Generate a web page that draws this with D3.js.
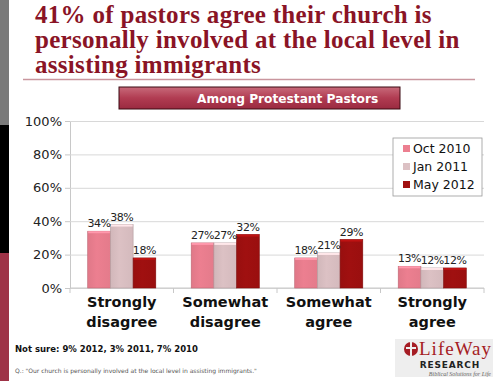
<!DOCTYPE html>
<html><head><meta charset="utf-8">
<script src="https://cdn.jsdelivr.net/npm/d3@7"></script>
<style>body{margin:0;background:#fff}svg{display:block}</style>
</head><body>
<script>
const categories = [["Strongly","disagree"],["Somewhat","disagree"],["Somewhat","agree"],["Strongly","agree"]];
const seriesNames = ["Oct 2010","Jan 2011","May 2012"];
const oct2010 = [34,27,18,13];
const jan2011 = [38,27,21,12];
const may2012 = [18,32,29,12];
const yTicks = [0,20,40,60,80,100];
const titleLines = ["41% of pastors agree their church is","personally involved at the local level in","assisting immigrants"];
const seriesColors = ["#ec7f90","#dcc1c4","#a01010"];
const series = [oct2010, jan2011, may2012];

const W=500,H=381;
const svg=d3.select("body").append("svg").attr("width",W).attr("height",H);

// left strip
svg.append("rect").attr("x",0).attr("y",0).attr("width",9).attr("height",125).attr("fill","#7a7a7a");
svg.append("rect").attr("x",0).attr("y",125).attr("width",9).attr("height",128).attr("fill","#000");
svg.append("rect").attr("x",0).attr("y",253).attr("width",9).attr("height",128).attr("fill","#9e3347");

// title
svg.append("g").selectAll("text").data(titleLines).join("text")
  .attr("x",35).attr("y",(d,i)=>22.5+i*25)
  .attr("font-family","'Liberation Serif','Times New Roman',serif").attr("font-weight","bold")
  .attr("font-size",25).attr("letter-spacing",0.3).attr("fill","#8a1426").text(d=>d);
svg.append("line").attr("x1",23).attr("x2",475).attr("y1",79.5).attr("y2",79.5).attr("stroke","#c9969e").attr("stroke-width",1.5);

// banner
const defs=svg.append("defs");
const bg=defs.append("linearGradient").attr("id","bann").attr("x1",0).attr("y1",0).attr("x2",0).attr("y2",1);
bg.append("stop").attr("offset","0").attr("stop-color","#c86a7a");
bg.append("stop").attr("offset","0.5").attr("stop-color","#b13c52");
bg.append("stop").attr("offset","1").attr("stop-color","#9a2a40");
svg.append("rect").attr("x",119).attr("y",87).attr("width",281).attr("height",22).attr("fill","url(#bann)").attr("stroke","#3a0a12").attr("stroke-width",1);
svg.append("text").attr("x",197).attr("y",103).attr("font-family","'DejaVu Sans',sans-serif").attr("font-weight","bold")
  .attr("font-size",12.2).attr("fill","#fff").text("Among Protestant Pastors");

// chart
const x0=d3.scaleBand().domain(d3.range(categories.length)).range([70,484]).paddingInner(0).paddingOuter(0);
const x1=d3.scaleBand().domain(d3.range(seriesNames.length)).range([0,x0.bandwidth()]).paddingInner(0).paddingOuter(0.78);
const y=d3.scaleLinear().domain([0,100]).range([288,121]);

const yAxis=svg.append("g").attr("transform","translate(70,0)")
  .call(d3.axisLeft(y).tickValues(yTicks).tickFormat(d=>d+"%").tickSize(-(484-70)).tickPadding(8));
yAxis.select(".domain").attr("stroke","#c8c8c8");
yAxis.selectAll(".tick line").attr("stroke","#d8d8d8");
yAxis.selectAll("text").attr("font-family","'DejaVu Sans',sans-serif").attr("font-size",13).attr("fill","#222");
yAxis.selectAll(".tick").append("line").attr("x1",-5).attr("x2",0).attr("stroke","#c8c8c8");

// x baseline and ticks
svg.append("line").attr("x1",70).attr("x2",484).attr("y1",y(0)).attr("y2",y(0)).attr("stroke","#c8c8c8");
svg.append("g").selectAll("line").data(d3.range(categories.length+1)).join("line")
  .attr("x1",d=>70+d*x0.bandwidth()).attr("x2",d=>70+d*x0.bandwidth())
  .attr("y1",y(0)).attr("y2",y(0)+5).attr("stroke","#c8c8c8");

// gradients for bars
seriesColors.forEach((c,i)=>{
  const g=defs.append("linearGradient").attr("id","bar"+i).attr("x1",0).attr("y1",0).attr("x2",1).attr("y2",0);
  g.append("stop").attr("offset","0").attr("stop-color",d3.color(c).darker(0.15));
  g.append("stop").attr("offset","0.4").attr("stop-color",c);
  g.append("stop").attr("offset","1").attr("stop-color",d3.color(c).darker(0.1));
});

const groups=svg.append("g").selectAll("g").data(categories).join("g")
  .attr("transform",(d,i)=>`translate(${x0(i)},0)`);
groups.each(function(cat,ci){
  const g=d3.select(this);
  series.forEach((s,si)=>{
    const v=s[ci];
    g.append("rect").attr("x",x1(si)).attr("y",y(v)).attr("width",x1.bandwidth()).attr("height",y(0)-y(v))
      .attr("fill","url(#bar"+si+")").attr("stroke",d3.color(seriesColors[si]).darker(0.6)).attr("stroke-width",0.6);
    g.append("rect").attr("x",x1(si)+0.5).attr("y",y(v)).attr("width",x1.bandwidth()-1).attr("height",2)
      .attr("fill",d3.color(seriesColors[si]).brighter(0.5));
  });
  series.forEach((s,si)=>{
    const v=s[ci];
    g.append("text").attr("x",x1(si)+x1.bandwidth()/2).attr("y",y(v)-4).attr("text-anchor","middle")
      .attr("font-family","'DejaVu Sans',sans-serif").attr("font-size",11).attr("letter-spacing",-0.4).attr("fill","#222").text(v+"%");
  });
  cat.forEach((line,li)=>{
    g.append("text").attr("x",x0.bandwidth()/2).attr("y",307+li*20).attr("text-anchor","middle")
      .attr("font-family","'DejaVu Sans',sans-serif").attr("font-weight","bold").attr("font-size",14.5).attr("fill","#111").text(line);
  });
});

// legend
const lg=svg.append("g").attr("transform","translate(393,138)");
lg.append("rect").attr("width",89).attr("height",58).attr("fill","#fff").attr("stroke","#999").attr("stroke-width",0.8);
seriesNames.forEach((n,i)=>{
  lg.append("rect").attr("x",10).attr("y",7+i*18).attr("width",7).attr("height",7).attr("fill",seriesColors[i]);
  lg.append("text").attr("x",20).attr("y",15+i*18).attr("font-family","'DejaVu Sans',sans-serif").attr("font-size",12.5).attr("fill","#111").text(n);
});

// footnotes
svg.append("text").attr("x",15).attr("y",352).attr("font-family","'DejaVu Sans',sans-serif").attr("font-weight","bold")
  .attr("font-size",8.5).attr("fill","#111").text("Not sure: 9% 2012, 3% 2011, 7% 2010");
svg.append("text").attr("x",15).attr("y",373).attr("font-family","'DejaVu Sans',sans-serif")
  .attr("font-size",6).attr("fill","#555").text("Q.: \"Our church is personally involved at the local level in assisting immigrants.\"");

// logo
const logo=svg.append("g");
logo.append("rect").attr("x",395).attr("y",339).attr("width",98).attr("height",38).attr("fill","#eeeeee");
logo.append("circle").attr("cx",411).attr("cy",349).attr("r",7).attr("fill","#a51c24");
logo.append("path").attr("d","M410,342 L412,342 L412,347 L416,347 L416,349 L412,349 L412,356 L410,356 L410,349 L406,349 L406,347 L410,347 Z").attr("fill","#eee");
logo.append("text").attr("x",419).attr("y",355).attr("font-family","'Liberation Serif',serif").attr("font-size",19).attr("fill","#a51c24").attr("textLength",72).text("LifeWay");
logo.append("text").attr("x",480).attr("y",367.5).attr("text-anchor","end").attr("font-family","'DejaVu Sans',sans-serif").attr("font-weight","bold").attr("font-size",9).attr("letter-spacing",0.8).attr("fill","#222").text("RESEARCH");
logo.append("text").attr("x",491).attr("y",375.5).attr("text-anchor","end").attr("font-family","'Liberation Serif',serif").attr("font-style","italic").attr("font-size",6).attr("fill","#666").text("Biblical Solutions for Life");
</script>
</body></html>
